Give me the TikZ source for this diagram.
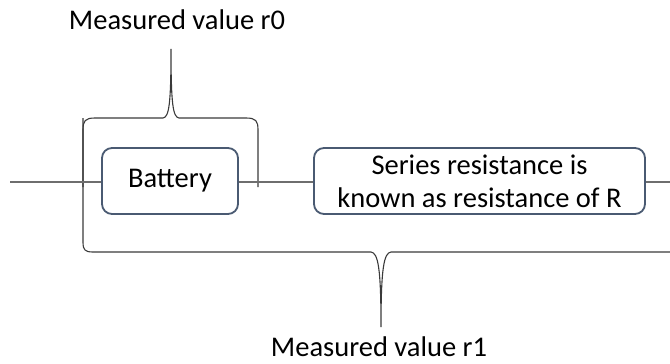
\documentclass[tikz,border=0pt]{standalone}
\usepackage{fontspec}
\setmainfont{Carlito}
\definecolor{boxline}{HTML}{4A5A72}
\definecolor{wire}{HTML}{6E6E6E}
\definecolor{bracec}{HTML}{3A3A3A}
\begin{document}
\begin{tikzpicture}[x=1pt,y=-1pt,
  box/.style={draw=boxline, line width=1.8pt, rounded corners=10pt, fill=white, inner sep=0pt,
    font=\fontsize{28.5}{33}\selectfont, align=center},
  wireline/.style={draw=wire, line width=1.3pt},
  bracepath/.style={draw=bracec, line width=1.1pt},
  lbl/.style={font=\fontsize{28.5}{33}\selectfont, anchor=base, inner sep=0pt}]
\useasboundingbox (0,0) rectangle (670,364);
\begin{scope}
\clip (0,0) rectangle (670,364);
% braces
\draw[bracepath] (83,187) -- (83,130) .. controls (83,121) and (85,118) .. (95,118)
  -- (163,118) .. controls (169,117) and (171,105) .. (171,49)
  .. controls (171,105) and (173,117) .. (179,118)
  -- (246,118) .. controls (256,118) and (258,121) .. (258,130) -- (258,187);
\draw[bracepath] (83,118) -- (83,242) .. controls (83,250) and (85,252) .. (93,252)
  -- (371,252) .. controls (378,253) and (381,267) .. (381,327)
  .. controls (381,267) and (384,253) .. (391,252)
  -- (669,252) .. controls (677,252) and (679,250) .. (679,242) -- (679,118);
\end{scope}
% boxes
\node[box, minimum width=136pt, minimum height=66pt] (bat) at (170,181) {Battery};
\node[box, minimum width=331pt, minimum height=66pt] (ser) at (479.5,181) {Series resistance is\\known as resistance of R};
% wires
\coordinate (lend) at (10,182);
\coordinate (rend) at (670,182);
\draw[wireline] (lend) -- (bat.west |- lend);
\draw[wireline] (bat.east |- lend) -- (ser.west |- lend);
\draw[wireline] (ser.east |- rend) -- (rend);
% labels
\node[lbl] (m0) at (177,30) {Measured value r0};
\node[lbl] (m1) at (379,356) {Measured value r1};
\end{tikzpicture}
\end{document}
